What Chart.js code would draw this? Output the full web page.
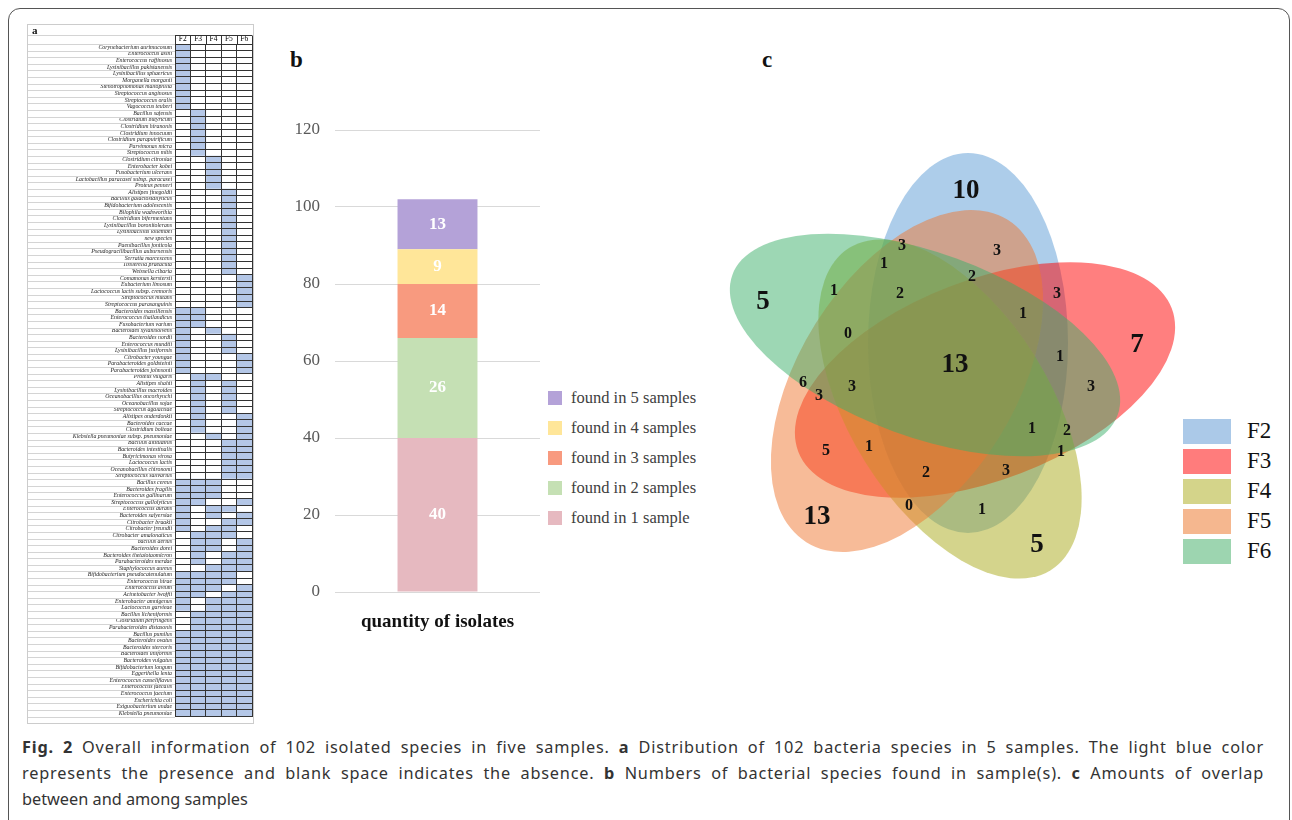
<!DOCTYPE html>
<html>
<head>
<meta charset="utf-8">
<script src="https://cdn.jsdelivr.net/npm/chart.js@4.4.0/dist/chart.umd.min.js"></script>
<style>
body{margin:0;width:1292px;height:820px;background:#fff;position:relative;overflow:hidden;font-family:'Liberation Serif',serif}
.frame{position:absolute;left:8px;top:8px;width:1280px;height:840px;border:1px solid #555;border-radius:12px}
.abs{position:absolute}
.panelA{position:absolute;left:27px;top:24px;width:225px;height:698px;border:1px solid #ccc}
.tag{position:absolute;font-weight:bold;font-family:'Liberation Serif',serif;color:#111}
.legB{position:absolute;left:548px;top:383px;font-size:16.5px;color:#404040}
.legB div{height:30px;display:flex;align-items:center}
.legB span{display:inline-block;width:14px;height:14px;margin-right:9px}
.legC{position:absolute;left:1183px;top:416px;font-size:23px;color:#111}
.legC div{height:30px;display:flex;align-items:center}
.legC span{display:inline-block;width:48px;height:25px;margin-right:16px}
.caption{position:absolute;left:22px;top:734px;width:1242px;font-family:'Noto Sans',sans-serif;font-size:16.3px;line-height:26px;color:#333}
.caption .j{text-align:justify;text-align-last:justify;letter-spacing:0.8px}
</style>
</head>
<body>
<div class="frame"></div>

<div class="panelA"><canvas id="chartA" width="225" height="698"></canvas></div>
<div class="tag" style="left:32px;top:24px;font-size:11px">a</div>

<div class="tag" style="left:290px;top:47px;font-size:23px">b</div>
<canvas id="chartB" class="abs" style="left:280px;top:100px" width="265" height="545"></canvas>
<div class="legB" id="legB"></div>

<div class="tag" style="left:762px;top:47px;font-size:23px">c</div>
<canvas id="chartC" class="abs" style="left:700px;top:130px" width="480" height="470"></canvas>
<div class="legC" id="legC"></div>

<div class="caption">
<div class="j"><b>Fig. 2</b> Overall information of 102 isolated species in five samples. <b>a</b> Distribution of 102 bacteria species in 5 samples. The light blue color</div>
<div class="j">represents the presence and blank space indicates the absence. <b>b</b> Numbers of bacterial species found in sample(s). <b>c</b> Amounts of overlap</div>
<div>between and among samples</div>
</div>

<script>
// ---- panel a data: species and presence in F2..F6 ----
const samples = ['F2','F3','F4','F5','F6'];
const species = [
  'Corynebacterium aurimucosum','Enterococcus asini','Enterococcus raffinosus','Lysinibacillus pakistanensis',
  'Lysinibacillus sphaericus','Morganella morganii','Stenotrophomonas maltophilia','Streptococcus anginosus',
  'Streptococcus oralis','Vagococcus teuberi','Bacillus safensis','Clostridium butyricum','Clostridium hiranonis',
  'Clostridium innocuum','Clostridium paraputrificum','Parvimonas micra','Streptococcus mitis',
  'Clostridium citroniae','Enterobacter kobei','Fusobacterium ulcerans','Lactobacillus paracasei subsp. paracasei',
  'Proteus penneri','Alistipes finegoldii','Bacillus galactosidilyticus','Bifidobacterium adolescentis',
  'Bilophila wadsworthia','Clostridium bifermentans','Lysinibacillus boronitolerans','Lysinibacillus louembei',
  'new species','Paenibacillus fonticola','Pseudogracilibacillus auburnensis','Serratia marcescens',
  'Tissierella praeacuta','Weissella cibaria','Comamonas kerstersii','Eubacterium limosum',
  'Lactococcus lactis subsp. cremoris','Streptococcus mutans','Streptococcus parasanguinis',
  'Bacteroides massiliensis','Enterococcus thailandicus','Fusobacterium varium','Bacteroides xylanisolvens',
  'Bacteroides nordii','Enterococcus mundtii','Lysinibacillus fusiformis','Citrobacter youngae',
  'Parabacteroides goldsteinii','Parabacteroides johnsonii','Proteus vulgaris','Alistipes shahii',
  'Lysinibacillus macroides','Oceanobacillus oncorhynchi','Oceanobacillus sojae','Streptococcus agalactiae',
  'Alistipes onderdonkii','Bacteroides caccae','Clostridium bolteae','Klebsiella pneumoniae subsp. pneumoniae',
  'Bacillus altitudinis','Bacteroides intestinalis','Butyricimonas virosa','Lactococcus lactis',
  'Oceanobacillus chironomi','Streptococcus salivarius','Bacillus cereus','Bacteroides fragilis',
  'Enterococcus gallinarum','Streptococcus gallolyticus','Enterococcus durans','Bacteroides salyersiae',
  'Citrobacter braakii','Citrobacter freundii','Citrobacter amalonaticus','bacillus aerius','Bacteroides dorei',
  'Bacteroides thetaiotaomicron','Parabacteroides merdae','Staphylococcus aureus',
  'Bifidobacterium pseudocatenulatum','Enterococcus hirae','Enterococcus avium','Acinetobacter lwoffii',
  'Enterobacter amnigenus','Lactococcus garvieae','Bacillus licheniformis','Clostridium perfringens',
  'Parabacteroides distasonis','Bacillus pumilus','Bacteroides ovatus','Bacteroides stercoris',
  'Bacteroides uniformis','Bacteroides vulgatus','Bifidobacterium longum','Eggerthella lenta',
  'Enterococcus casseliflavus','Enterococcus faecalis','Enterococcus faecium','Escherichia coli',
  'Exiguobacterium undae','Klebsiella pneumoniae'
];
// one code per species, digits = F2 F3 F4 F5 F6
const presence = [
  '10000','10000','10000','10000','10000','10000','10000','10000','10000','10000',
  '01000','01000','01000','01000','01000','01000','01000',
  '00100','00100','00100','00100','00100',
  '00010','00010','00010','00010','00010','00010','00010','00010','00010','00010','00010','00010','00010',
  '00001','00001','00001','00001','00001',
  '11000','11000','11000','10100','10010','10010','10010','10001','10001','10001',
  '01100','01010','01010','01010','01010','01010','01001','01001','01001','00101',
  '00011','00011','00011','00011','00011','00011',
  '11100','11100','11100','11001','10110','10101','10011','10110','01110','01101','01101','01011','01011','00111',
  '11110','11110','11101','11011','10111','10111','01111','01111','01111',
  '11111','11111','11111','11111','11111','11111','11111','11111','11111','11111','11111','11111','11111'
];

// ---- panel b data ----
const groupLabels = ['found in 1 sample','found in 2 samples','found in 3 samples','found in 4 samples','found in 5 samples'];
const groupCounts = [40, 26, 14, 9, 13];
const groupColors = ['#e6b9c0','#c5e0b4','#f89a7f','#ffe699','#b4a2d8'];

// ---- panel c data ----
const vennSets = ['F2','F3','F4','F5','F6'];
const vennColors = ['rgba(91,155,213,0.5)','rgba(255,0,0,0.5)','rgba(170,170,25,0.5)','rgba(240,120,50,0.5)','rgba(60,175,105,0.5)'];
const vennLegendColors = ['#abc9e8','#ff7c7c','#d4d48a','#f5b78f','#9dd5b0'];
// ellipse shapes (layout): centre, semi-axes, rotation in degrees
const vennShape = [
  {cx:268, cy:213, a:190, b:100, rot:90},
  {cx:285, cy:250, a:200, b:100, rot:-21},
  {cx:250, cy:279, a:190, b:100, rot:58},
  {cx:207, cy:251, a:190, b:108, rot:-58},
  {cx:225, cy:215, a:205, b:92, rot:20}
];
const vennCounts = [10,7,5,13,5,13, 3,1,2,1,3,2,3,1,0,1,3,6,3,3,1,2,1,5,1,2,3,0,1];
const vennBig = [1,1,1,1,1,1, 0,0,0,0,0,0,0,0,0,0,0,0,0,0,0,0,0,0,0,0,0,0,0];
const vennLabelPos = [
  [266,61],[437,215],[337,415],[117,387],[63,172],[255,235],
  [202,116],[184,134],[200,164],[134,161],[297,121],[272,147],[357,164],[323,184],[148,204],
  [360,227],[391,257],[103,253],[119,266],[152,257],[332,299],[367,301],[361,322],[126,321],
  [169,317],[226,343],[306,341],[209,376],[282,380]
];

// ================= panel a =================
const cellBlue = '#b4c7e7';
const tableLines = {
  id:'tableLines',
  afterDraw(chart){
    const {ctx, chartArea, scales} = chart;
    const y = scales.y, x = scales.x;
    const half = (y.getPixelForValue(1) - y.getPixelForValue(0)) / 2;
    ctx.save();
    ctx.strokeStyle = '#d4d4d4';
    ctx.lineWidth = 1;
    for(let i = 0; i <= species.length; i++){
      const py = Math.round(y.getPixelForValue(i) - half) + 0.5;
      ctx.beginPath(); ctx.moveTo(0, py); ctx.lineTo(chartArea.left, py); ctx.stroke();
    }
    const top = Math.round(chartArea.top - 9) + 0.5;
    ctx.beginPath(); ctx.moveTo(0, top); ctx.lineTo(chartArea.left, top); ctx.stroke();
    ctx.strokeStyle = '#333';
    ctx.beginPath(); ctx.moveTo(chartArea.left, top); ctx.lineTo(chartArea.right, top); ctx.stroke();
    for(let k = 0; k <= samples.length; k++){
      const px = Math.round(x.getPixelForValue(k)) + 0.5;
      ctx.beginPath(); ctx.moveTo(px, top); ctx.lineTo(px, chartArea.top); ctx.stroke();
    }
    ctx.restore();
  }
};

new Chart(document.getElementById('chartA'), {
  type:'bar',
  data:{
    labels: species,
    datasets: samples.map((s,k)=>({
      label:s,
      data: species.map(()=>1),
      backgroundColor: presence.map(p=>p[k]==='1' ? cellBlue : '#ffffff'),
      barPercentage:1, categoryPercentage:1, borderWidth:0
    }))
  },
  options:{
    indexAxis:'y', responsive:false, animation:false,
    plugins:{legend:{display:false}, tooltip:{enabled:false}},
    layout:{padding:{top:0,right:1,bottom:1,left:0}},
    scales:{
      x:{stacked:true, min:0, max:5,
        ticks:{display:false, stepSize:1},
        grid:{color:'#333', drawTicks:false, z:1}, border:{display:false}},
      x2:{type:'category', labels:samples, position:'top', offset:true,
        grid:{display:false, drawTicks:false}, border:{display:false},
        ticks:{font:{family:'Liberation Serif', size:7.5}, color:'#000', padding:0},
        afterFit(s){ s.height = 19; }},
      y:{stacked:true,
        ticks:{autoSkip:false, font:{family:'Liberation Serif', size:5.8, style:'italic'}, color:'#222', padding:3},
        grid:{color:'#333', offset:true, drawTicks:false, z:1}, border:{display:false},
        afterFit(s){ s.width = 147; }}
    }
  },
  plugins:[tableLines]
});

// ================= panel b =================
const barValueLabels = {
  id:'barValueLabels',
  afterDatasetsDraw(chart){
    const {ctx} = chart;
    ctx.save();
    ctx.fillStyle = '#fff';
    ctx.font = 'bold 17px "Liberation Serif"';
    ctx.textAlign = 'center';
    ctx.textBaseline = 'middle';
    chart.data.datasets.forEach((ds,i)=>{
      const bar = chart.getDatasetMeta(i).data[0];
      ctx.fillText(String(ds.data[0]), bar.x, (bar.y + bar.base) / 2);
    });
    ctx.restore();
  }
};

new Chart(document.getElementById('chartB'), {
  type:'bar',
  data:{
    labels:[''],
    datasets: groupLabels.map((l,i)=>({
      label:l, data:[groupCounts[i]], backgroundColor:groupColors[i],
      barPercentage:0.39, categoryPercentage:1, borderWidth:0
    }))
  },
  options:{
    responsive:false, animation:false,
    plugins:{legend:{display:false}, tooltip:{enabled:false}},
    layout:{padding:{top:30,right:5,bottom:0,left:0}},
    scales:{
      x:{stacked:true, grid:{display:false}, border:{display:false}, ticks:{display:false},
        title:{display:true, text:'quantity of isolates', color:'#111',
          font:{family:'Liberation Serif', size:19, weight:'bold'}, padding:{top:0,bottom:12}},
        afterFit(s){ s.height = 53; }},
      y:{stacked:true, min:0, max:120,
        ticks:{stepSize:20, color:'#595959', font:{family:'Liberation Serif', size:17}, padding:15},
        grid:{color:'#d9d9d9', drawTicks:false}, border:{display:false},
        afterFit(s){ s.width = 55; }}
    }
  },
  plugins:[barValueLabels]
});

document.getElementById('legB').innerHTML = groupLabels.map((l,i)=>
  `<div><span style="background:${groupColors[i]}"></span>${l}</div>`).reverse().join('');

// ================= panel c =================
const vennDraw = {
  id:'vennDraw',
  beforeDatasetsDraw(chart){
    const {ctx, scales} = chart;
    const sx = v => scales.x.getPixelForValue(v) - scales.x.getPixelForValue(0);
    ctx.save();
    vennShape.forEach((e,i)=>{
      const p = chart.getDatasetMeta(i).data[0];
      ctx.beginPath();
      ctx.ellipse(p.x, p.y, sx(e.a), sx(e.b), e.rot * Math.PI / 180, 0, Math.PI * 2);
      ctx.fillStyle = vennColors[i];
      ctx.fill();
    });
    const lab = chart.getDatasetMeta(vennSets.length);
    ctx.fillStyle = '#111';
    ctx.textAlign = 'center';
    ctx.textBaseline = 'middle';
    lab.data.forEach((p,j)=>{
      ctx.font = vennBig[j] ? 'bold 27px "Liberation Serif"' : 'bold 16px "Liberation Serif"';
      ctx.fillText(String(vennCounts[j]), p.x, p.y);
    });
    ctx.restore();
  }
};

new Chart(document.getElementById('chartC'), {
  type:'scatter',
  data:{
    datasets: vennSets.map((s,i)=>({
      label:s, data:[{x:vennShape[i].cx, y:vennShape[i].cy}],
      backgroundColor:vennLegendColors[i], pointRadius:0
    })).concat([{
      label:'counts', data: vennLabelPos.map(p=>({x:p[0], y:p[1]})), pointRadius:0
    }])
  },
  options:{
    responsive:false, animation:false,
    plugins:{legend:{display:false}, tooltip:{enabled:false}},
    layout:{padding:0},
    scales:{
      x:{type:'linear', min:0, max:480, display:false},
      y:{type:'linear', min:0, max:470, reverse:true, display:false}
    }
  },
  plugins:[vennDraw]
});

document.getElementById('legC').innerHTML = vennSets.map((s,i)=>
  `<div><span style="background:${vennLegendColors[i]}"></span>${s}</div>`).join('');
</script>
</body>
</html>
